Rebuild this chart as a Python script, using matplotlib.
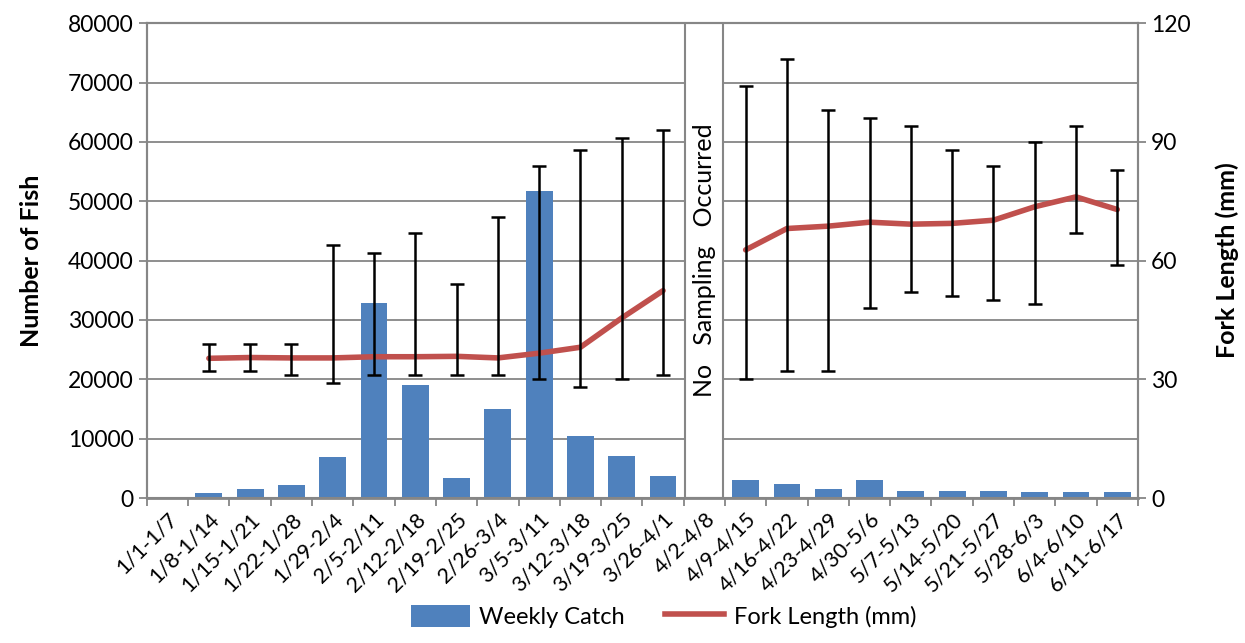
import matplotlib.pyplot as plt
import numpy as np
from matplotlib.patches import Patch
from matplotlib.lines import Line2D

plt.rcParams['font.family'] = ['Lato', 'DejaVu Sans']

# weekly sampling periods
weeks = ['1/1-1/7', '1/8-1/14', '1/15-1/21', '1/22-1/28', '1/29-2/4', '2/5-2/11',
         '2/12-2/18', '2/19-2/25', '2/26-3/4', '3/5-3/11', '3/12-3/18', '3/19-3/25',
         '3/26-4/1', '4/2-4/8', '4/9-4/15', '4/16-4/22', '4/23-4/29', '4/30-5/6',
         '5/7-5/13', '5/14-5/20', '5/21-5/27', '5/28-6/3', '6/4-6/10', '6/11-6/17']
no_sampling = '4/2-4/8'

# weekly catch (number of fish)
catch = [0, 900, 1500, 2200, 6850, 32800, 19000, 3300, 15000, 51700, 10500, 7000,
         3750, 0, 2950, 2300, 1450, 3100, 1100, 1200, 1200, 1000, 950, 950]

# fork length (mm): mean, max, min
nan = np.nan
fork_mean = [nan, 35.3, 35.5, 35.4, 35.4, 35.7, 35.7, 35.8, 35.4, 36.6, 38.1, 45.5,
             52.4, nan, 62.7, 68.1, 68.7, 69.7, 69.2, 69.4, 70.2, 73.6, 76.1, 72.9]
fork_max = [nan, 39, 39, 39, 64, 62, 67, 54, 71, 84, 88, 91,
            93, nan, 104, 111, 98, 96, 94, 88, 84, 90, 94, 83]
fork_min = [nan, 32, 32, 31, 29, 31, 31, 31, 31, 30, 28, 30,
            31, nan, 30, 32, 32, 48, 52, 51, 50, 49, 67, 59]

blue = '#4F81BD'
red = '#C0504D'
grey = '#868686'

fig, ax = plt.subplots(figsize=(12.45, 6.43), dpi=100)
fig.subplots_adjust(left=0.118, right=0.914, top=0.964, bottom=0.2255)

x = np.arange(len(weeks))
ax.bar(x, catch, width=0.65, color=blue, zorder=2)

# box marking the week with no sampling
gap = weeks.index(no_sampling)
ax.bar(gap, 80000, width=0.92, color='white', edgecolor=grey, linewidth=1.5, zorder=3)
ax.text(gap, 40000, 'No   Sampling   Occurred', rotation=90, ha='center', va='center',
        fontsize=18, zorder=4)

ax.set_xlim(-0.5, len(weeks) - 0.5)
ax.set_ylim(0, 80000)
ax.set_yticks(range(0, 80001, 10000))
ax.yaxis.grid(True, color=grey, linewidth=1.3)
ax.set_axisbelow(True)
ax.set_xticks(x)
ax.set_xticklabels(weeks, rotation=45, ha='right', rotation_mode='anchor', fontsize=15.5)
ax.set_xticks(np.arange(-0.5, len(weeks)), minor=True)
ax.tick_params(axis='x', which='major', length=0, pad=8)
ax.tick_params(axis='x', which='minor', length=6, color=grey, width=1.3)
ax.tick_params(axis='y', length=6, color=grey, width=1.3, labelsize=16.5)
ax.set_ylabel('Number of Fish', fontsize=18, fontweight='bold', labelpad=18)

ax2 = ax.twinx()
mean = np.array(fork_mean)
yerr = [mean - np.array(fork_min), np.array(fork_max) - mean]
ax2.plot(x, mean, color=red, linewidth=4, solid_capstyle='round',
         solid_joinstyle='round', zorder=3)
ax2.errorbar(x, mean, yerr=yerr, fmt='none', ecolor='black', elinewidth=1.8,
             capsize=5, capthick=1.8, zorder=4)
ax2.set_ylim(0, 120)
ax2.set_yticks(range(0, 121, 30))
ax2.tick_params(axis='y', length=6, color=grey, width=1.3, labelsize=16.5)
ax2.set_ylabel('Fork Length (mm)', fontsize=18, fontweight='bold', labelpad=18)

for a in (ax, ax2):
    for s in a.spines.values():
        s.set_color(grey)
        s.set_linewidth(1.5)
ax.spines['bottom'].set_linewidth(2)

handles = [Patch(facecolor=blue, label='Weekly Catch'),
           Line2D([0], [0], color=red, linewidth=4, label='Fork Length (mm)')]
fig.legend(handles=handles, loc='lower center', bbox_to_anchor=(0.533, -0.01), ncol=2,
           frameon=False, fontsize=17, handlelength=2.5, handleheight=1.1,
           handletextpad=0.4, columnspacing=1.7)

plt.savefig('out.png', dpi=100)
